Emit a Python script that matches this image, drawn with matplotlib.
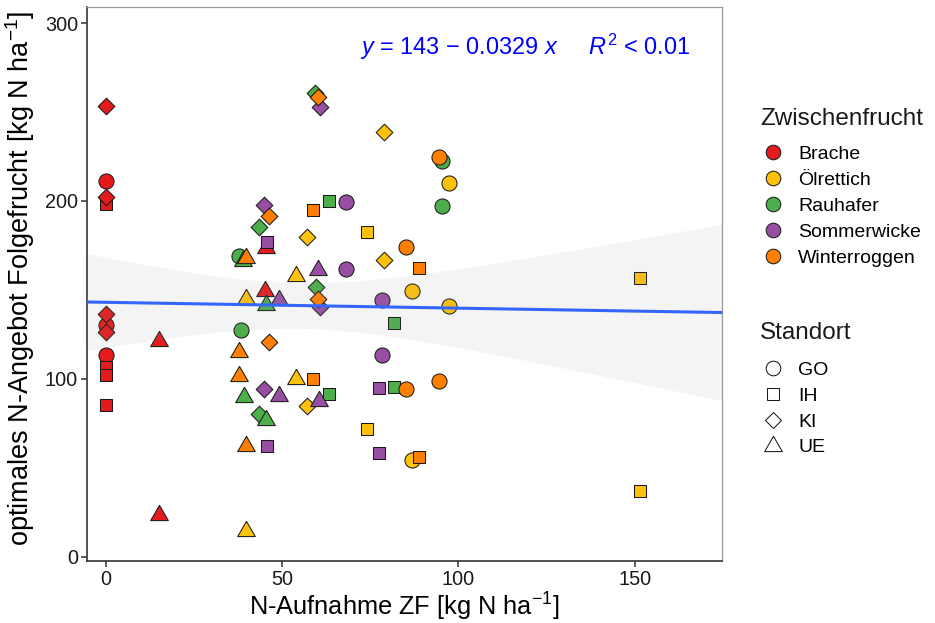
import numpy as np
import matplotlib
matplotlib.use("Agg")
import matplotlib.pyplot as plt
from matplotlib.lines import Line2D
from matplotlib.markers import MarkerStyle

plt.rcParams["font.family"] = ["Liberation Sans", "DejaVu Sans"]
plt.rcParams["mathtext.fontset"] = "custom"
plt.rcParams["mathtext.rm"] = "Liberation Sans"
plt.rcParams["mathtext.it"] = "Liberation Sans:italic"
plt.rcParams["mathtext.bf"] = "Liberation Sans:bold"

# ---- data: N uptake of catch crop (x) vs. optimal N supply of following crop (y)
zwischenfrucht = (
    ["Brache"] * 15 + ["Ölrettich"] * 16 + ["Rauhafer"] * 16
    + ["Sommerwicke"] * 16 + ["Winterroggen"] * 16
)
standort = (
    ["GO"] * 3 + ["IH"] * 4 + ["KI"] * 4 + ["UE"] * 4
    + (["GO"] * 4 + ["IH"] * 4 + ["KI"] * 4 + ["UE"] * 4) * 4
)
n_aufnahme = [
    # Brache
    0, 0, 0,  0, 0, 0, 0,  0, 0, 0, 0,  15.1, 15.1, 45.1, 45.5,
    # Ölrettich
    86.9, 97.3, 86.9, 97.3,  74.0, 74.0, 151.4, 151.4,  78.8, 57.0, 78.8, 57.1,  39.6, 39.6, 53.8, 53.8,
    # Rauhafer
    95.3, 95.3, 37.8, 38.2,  63.4, 81.6, 63.4, 81.6,  59.3, 43.5, 59.6, 43.4,  39.0, 45.3, 39.2, 45.3,
    # Sommerwicke
    68.0, 68.0, 78.4, 78.4,  45.6, 45.6, 77.5, 77.5,  44.9, 60.7, 60.7, 44.9,  60.2, 49.2, 49.2, 60.4,
    # Winterroggen
    94.5, 85.1, 94.5, 85.2,  58.8, 88.9, 58.8, 88.9,  60.2, 46.3, 60.2, 46.3,  39.6, 37.7, 37.7, 39.6,
]
n_angebot = [
    # Brache
    211.4, 130.5, 113.5,  198.3, 106.6, 102.2, 85.0,  253.5, 202.4, 136.5, 126.2,  121.3, 23.2, 149.5, 173.5,
    # Ölrettich
    149.4, 141.0, 54.5, 209.9,  182.4, 71.5, 156.6, 36.7,  238.6, 180.0, 166.9, 84.5,  145.0, 14.2, 157.7, 100.0,
    # Rauhafer
    222.3, 197.2, 168.9, 127.5,  200.2, 131.5, 91.6, 95.5,  261.0, 185.2, 151.5, 80.3,  166.0, 141.6, 89.5, 76.8,
    # Sommerwicke
    199.3, 161.6, 144.4, 113.5,  176.8, 62.2, 94.8, 58.3,  197.8, 252.6, 140.3, 94.0,  161.2, 144.5, 90.3, 87.3,
    # Winterroggen
    224.9, 174.0, 98.7, 94.0,  195.0, 162.5, 100.0, 56.0,  258.3, 191.4, 144.9, 120.6,  167.8, 114.8, 101.5, 62.0,
]

zf_levels = ["Brache", "Ölrettich", "Rauhafer", "Sommerwicke", "Winterroggen"]
zf_colors = ["#E41A1C", "#FFC20A", "#4DAF4A", "#984EA3", "#FF7F00"]
site_levels = ["GO", "IH", "KI", "UE"]

# regression shown in the annotation
intercept = 143.0
slope = -0.0329
T_95 = 1.991  # two-sided 95 % t quantile, df = n - 2

x = np.asarray(n_aufnahme, dtype=float)
y = np.asarray(n_angebot, dtype=float)
zf = np.asarray(zwischenfrucht)
st = np.asarray(standort)

# marker shapes (triangle centred on its centroid)
tri = MarkerStyle(np.array([[0, 1.0], [-0.866, -0.5], [0.866, -0.5], [0, 1.0]]))
site_marker = {"GO": "o", "IH": "s", "KI": "D", "UE": tri}
site_size = {"GO": 118, "IH": 84, "KI": 72, "UE": 215}

fig = plt.figure(figsize=(9.35, 6.23), dpi=100)
ax = fig.add_axes([0.093, 0.0995, 0.679, 0.889])

for zname, col in zip(zf_levels, zf_colors):
    for s in site_levels:
        m = (zf == zname) & (st == s)
        if m.any():
            ax.scatter(x[m], y[m], marker=site_marker[s], s=site_size[s],
                       facecolor=col, edgecolor="#1a1a1a", linewidths=0.75,
                       zorder=3)

# fitted line with 95 % confidence band
xlim = (-5.4, 174.7)
xs = np.linspace(xlim[0], xlim[1], 200)
yfit = intercept + slope * xs
n = len(x)
resid = y - (intercept + slope * x)
s_res = np.sqrt(np.sum(resid ** 2) / (n - 2))
sxx = np.sum((x - x.mean()) ** 2)
half = T_95 * s_res * np.sqrt(1.0 / n + (xs - x.mean()) ** 2 / sxx)
ax.fill_between(xs, yfit - half, yfit + half, color="#999999", alpha=0.1,
                linewidth=0, zorder=4)
ax.plot(xs, yfit, color="#3366FF", linewidth=2.2, zorder=5)

ax.text(0.95, 0.928, r"$y$ = 143 − 0.0329 $x$     $R^2$ < 0.01",
        transform=ax.transAxes, ha="right", va="center",
        color="#0000FF", fontsize=16.9)

ax.set_xlim(*xlim)
ax.set_ylim(-2.5, 309)
ax.set_xticks([0, 50, 100, 150])
ax.set_yticks([0, 100, 200, 300])
ax.tick_params(axis="both", labelsize=14.3, colors="#333333", labelcolor="#1a1a1a",
               length=4.5, width=1.1, direction="out", pad=2)
for side in ("left", "bottom"):
    ax.spines[side].set_color("#333333")
    ax.spines[side].set_linewidth(1.2)
for side in ("top", "right"):
    ax.spines[side].set_color("#9a9a9a")
    ax.spines[side].set_linewidth(0.9)

ax.set_xlabel(r"N-Aufnahme ZF [kg N ha$^{-1}$]", fontsize=18.3, labelpad=1)
ax.set_ylabel(r"optimales N-Angebot Folgefrucht [kg N ha$^{-1}$]", fontsize=19.5)
ax.yaxis.set_label_coords(-0.078, 0.51)

# legends
edge = "#1a1a1a"
zf_handles = [Line2D([], [], linestyle="", marker="o", markersize=10.5,
                     markerfacecolor=c, markeredgecolor=edge,
                     markeredgewidth=0.75) for c in zf_colors]
site_handles = [
    Line2D([], [], linestyle="", marker="o", markersize=10.5,
           markerfacecolor="none", markeredgecolor=edge, markeredgewidth=0.75),
    Line2D([], [], linestyle="", marker="s", markersize=9.2,
           markerfacecolor="none", markeredgecolor=edge, markeredgewidth=0.75),
    Line2D([], [], linestyle="", marker="D", markersize=8.5,
           markerfacecolor="none", markeredgecolor=edge, markeredgewidth=0.75),
    Line2D([], [], linestyle="", marker=tri, markersize=14.7,
           markerfacecolor="none", markeredgecolor=edge, markeredgewidth=0.75),
]

W, H = 935.0, 623.0
leg_kw = dict(frameon=False, loc="center left", fontsize=14,
              handlelength=1.0, handletextpad=0.8,
              borderpad=0, borderaxespad=0)
leg1 = fig.legend(zf_handles, zf_levels, labelspacing=0.43,
                  bbox_to_anchor=(763 / W, 1 - 206 / H), **leg_kw)
leg2 = fig.legend(site_handles, site_levels, labelspacing=0.42,
                  bbox_to_anchor=(763 / W, 1 - 409 / H), **leg_kw)
fig.text(760 / W, 1 - 119 / H, "Zwischenfrucht", fontsize=17.5,
         ha="left", va="center", color="#1a1a1a")
fig.text(760 / W, 1 - 333 / H, "Standort", fontsize=17.5,
         ha="left", va="center", color="#1a1a1a")

fig.savefig("out.png", dpi=100)
